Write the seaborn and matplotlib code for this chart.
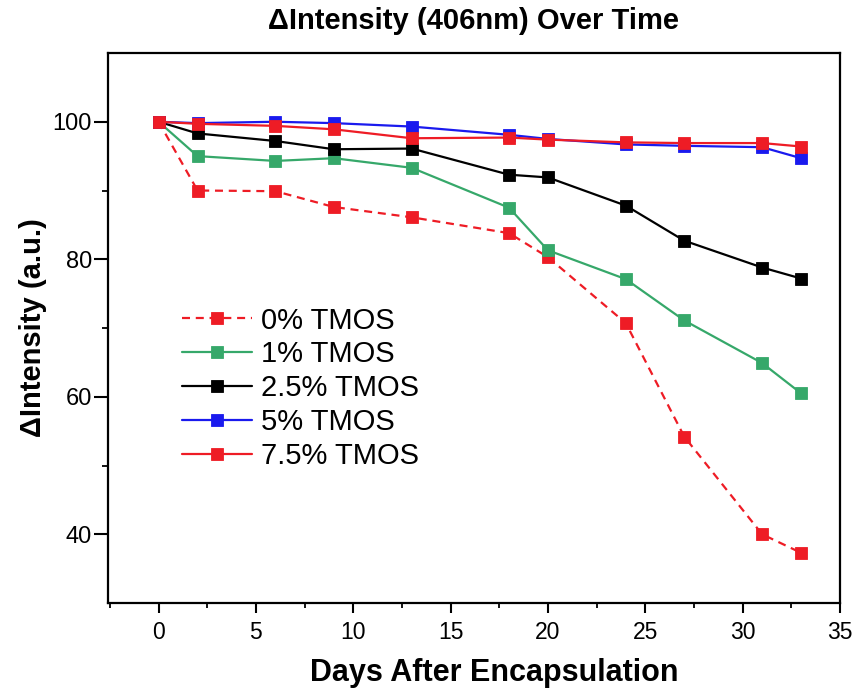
import numpy as np
import pandas as pd
import matplotlib
matplotlib.use("Agg")
import matplotlib.pyplot as plt
import seaborn as sns

# ---- data ----
days = [0, 2, 6, 9, 13, 18, 20, 24, 27, 31, 33]
tmos_0 = [100, 90.0, 89.9, 87.6, 86.1, 83.8, 80.3, 70.7, 54.2, 40.0, 37.3]
tmos_1 = [100, 95.0, 94.3, 94.7, 93.3, 87.5, 81.3, 77.1, 71.1, 64.9, 60.5]
tmos_2_5 = [100, 98.3, 97.2, 96.0, 96.1, 92.3, 91.9, 87.8, 82.7, 78.8, 77.2]
tmos_5 = [100, 99.8, 100.0, 99.8, 99.3, 98.1, 97.5, 96.7, 96.5, 96.3, 94.7]
tmos_7_5 = [100, 99.7, 99.4, 98.9, 97.6, 97.7, 97.4, 97.0, 96.9, 96.9, 96.4]
series_labels = ["0% TMOS", "1% TMOS", "2.5% TMOS", "5% TMOS", "7.5% TMOS"]
series_values = [tmos_0, tmos_1, tmos_2_5, tmos_5, tmos_7_5]

x_ticks = [0, 5, 10, 15, 20, 25, 30, 35]
y_ticks = [40, 60, 80, 100]

colors = ["#EE1C25", "#36A86A", "#000000", "#1A1AEE", "#EE1C25"]
dashed = [True, False, False, False, False]

rows = []
for lab, vals in zip(series_labels, series_values):
    for d, v in zip(days, vals):
        rows.append({"Days": d, "Intensity": v, "Series": lab})
df = pd.DataFrame(rows)

sns.set_style("ticks")
plt.rcParams["font.family"] = ["Liberation Sans", "DejaVu Sans"]
plt.rcParams["text.color"] = "black"
plt.rcParams["axes.labelcolor"] = "black"
plt.rcParams["xtick.color"] = "black"
plt.rcParams["ytick.color"] = "black"

fig = plt.figure(figsize=(8.56, 6.92), dpi=100)
ax = fig.add_axes([108 / 856, 89 / 692, 732 / 856, 550 / 692])

for lab, col, dsh in zip(series_labels, colors, dashed):
    sub = df[df["Series"] == lab]
    sns.lineplot(data=sub, x="Days", y="Intensity", ax=ax, color=col,
                 marker="s", markersize=8.6, linewidth=1.6,
                 markeredgecolor=col, markeredgewidth=0.6, label=lab,
                 linestyle="--" if dsh else "-")
    if dsh:
        ax.lines[-1].set_dashes([3.6, 2.6])

ax.set_xlim(-2.6, 35)
ax.set_ylim(30, 110)
ax.set_xticks(x_ticks)
ax.set_yticks(y_ticks)
ax.set_xticks(np.arange(-2.5, 35.1, 5), minor=True)
ax.set_yticks([50, 70, 90], minor=True)
ax.tick_params(axis="x", which="major", direction="out", length=7, width=1.5,
               labelsize=16.5, pad=6)
ax.tick_params(axis="x", which="minor", direction="out", length=3.5, width=1.3)
ax.tick_params(axis="y", which="major", direction="out", length=10, width=1.5,
               labelsize=17, pad=1.5)
ax.tick_params(axis="y", which="minor", direction="out", length=4, width=1.3)
for sp in ax.spines.values():
    sp.set_visible(True)
    sp.set_linewidth(1.6)
    sp.set_color("black")

ax.set_title("\u0394Intensity (406nm) Over Time", fontsize=21,
             fontweight="bold", pad=17)
ax.set_xlabel("Days After Encapsulation", fontsize=22, fontweight="bold",
              labelpad=10)
ax.xaxis.label.set_x(0.527)
ax.set_ylabel("\u0394Intensity (a.u.)", fontsize=21, fontweight="bold",
              labelpad=4)

leg = ax.legend(loc="upper left", bbox_to_anchor=(0.085, 0.56),
                frameon=False, fontsize=21, handlelength=2.4,
                handletextpad=0.3, labelspacing=0.2, borderaxespad=0)

fig.savefig("out.png", dpi=100)
